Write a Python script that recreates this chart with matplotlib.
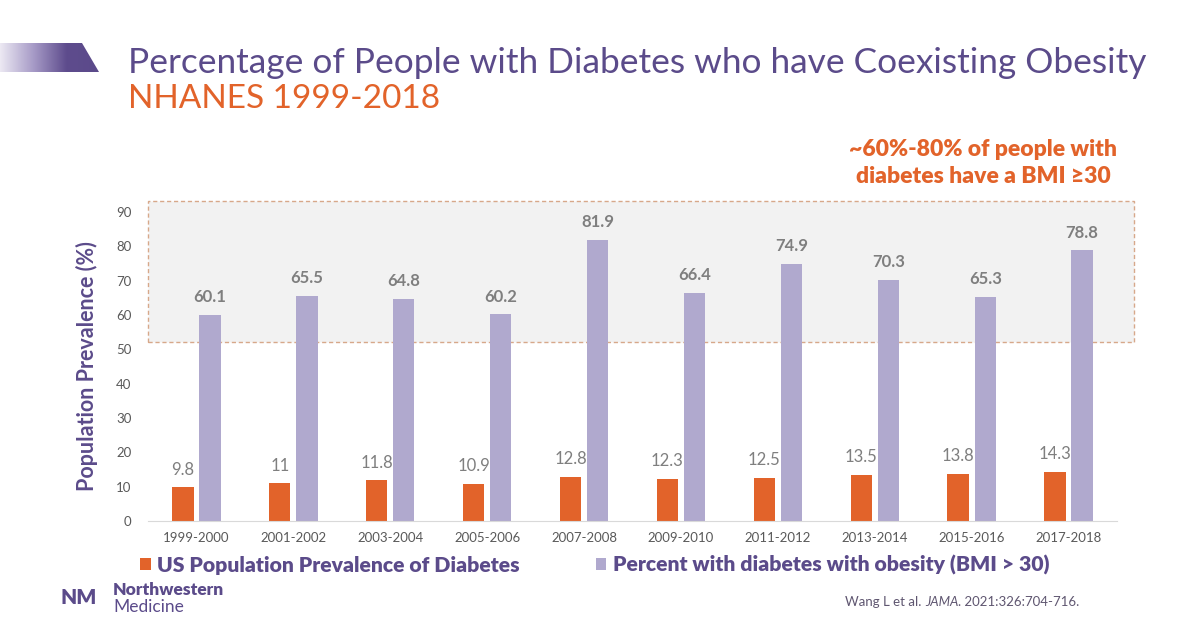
import matplotlib
matplotlib.use("Agg")
import matplotlib.pyplot as plt
import numpy as np
from matplotlib.patches import Rectangle, Polygon
from matplotlib.colors import LinearSegmentedColormap

categories = ["1999-2000", "2001-2002", "2003-2004", "2005-2006", "2007-2008",
              "2009-2010", "2011-2012", "2013-2014", "2015-2016", "2017-2018"]
diabetes_prev = [9.8, 11, 11.8, 10.9, 12.8, 12.3, 12.5, 13.5, 13.8, 14.3]
obesity_pct = [60.1, 65.5, 64.8, 60.2, 81.9, 66.4, 74.9, 70.3, 65.3, 78.8]
yticks = [0, 10, 20, 30, 40, 50, 60, 70, 80, 90]
band_range = [52, 93.3]

ORANGE = "#E2632A"
LAV = "#B0A9CE"
PURPLE = "#5B4B8A"
GRAY = "#595959"
FONT = ["Lato", "DejaVu Sans"]

plt.rcParams["font.family"] = FONT

fig = plt.figure(figsize=(12, 6.28), dpi=100)
fig.patch.set_facecolor("white")
ax = fig.add_axes([148/1200, 1-521/628, (1117-148)/1200, (521-212)/628])

x = np.arange(len(categories))
w = 0.22
off = 0.14

# highlighted band (extends slightly beyond the axis on the right)
band = Rectangle((-0.5, band_range[0]), 10.18, band_range[1]-band_range[0],
                 facecolor="#F2F2F2", edgecolor="#D7A88A", linestyle=(0, (3, 2)),
                 linewidth=1.0, clip_on=False, zorder=0)
ax.add_patch(band)

b1 = ax.bar(x - off, diabetes_prev, w, color=ORANGE, zorder=2,
            label="US Population Prevalence of Diabetes")
b2 = ax.bar(x + off, obesity_pct, w, color=LAV, zorder=2,
            label="Percent with diabetes with obesity (BMI > 30)")

for xi, v in zip(x, diabetes_prev):
    ax.annotate(f"{v:g}", (xi - off, v), xytext=(0, 7), textcoords="offset points",
                ha="center", va="bottom", fontsize=12, color="#7F7F7F")
for xi, v in zip(x, obesity_pct):
    ax.annotate(f"{v:g}", (xi + off, v), xytext=(0, 7), textcoords="offset points",
                ha="center", va="bottom", fontsize=12, color="#7F7F7F", fontweight="bold")

ax.set_xlim(-0.5, 9.5)
ax.set_ylim(0, 90)
ax.set_yticks(yticks)
ax.set_xticks(x)
ax.set_xticklabels(categories)
ax.tick_params(axis="both", length=0, labelsize=9.5, labelcolor=GRAY)
ax.tick_params(axis="y", pad=12)
ax.tick_params(axis="x", pad=8)
for s in ["top", "right", "left"]:
    ax.spines[s].set_visible(False)
ax.spines["bottom"].set_color("#D9D9D9")
ax.set_facecolor("none")

ax.set_ylabel("Population Prevalence (%)", fontsize=15.5, fontweight="bold", color=PURPLE, labelpad=13)

leg = ax.legend(handles=[b1, b2], loc="upper left", bbox_to_anchor=(-0.008, -0.11),
                ncol=2, frameon=False, fontsize=15.2, handlelength=0.5, handleheight=0.5,
                handletextpad=0.3, columnspacing=3.6, borderpad=0, borderaxespad=0)
for t in leg.get_texts():
    t.set_color(PURPLE)
    t.set_fontweight("heavy")

# title & subtitle
fig.text(128/1200, 1-63/628, "Percentage of People with Diabetes who have Coexisting Obesity",
         fontsize=25.4, color=PURPLE, va="center", ha="left")
fig.text(128/1200, 1-99/628, "NHANES 1999-2018", fontsize=24, color=ORANGE, va="center", ha="left")

# gradient decoration
grad = np.linspace(0, 1, 256).reshape(1, -1)
cmap = LinearSegmentedColormap.from_list("g", ["#ECE9F3", "#A79BC7", "#5E4C8D", "#5B4A8A"])
deco_ax = fig.add_axes([0, 1-72/628, 100/1200, 29/628])
deco_ax.set_axis_off()
im = deco_ax.imshow(grad, aspect="auto", cmap=cmap, extent=[0, 100, 0, 29])
poly = Polygon([[0, 0], [0, 29], [82, 29], [99, 0]], closed=True, transform=deco_ax.transData)
im.set_clip_path(poly)
deco_ax.set_xlim(0, 100)
deco_ax.set_ylim(0, 29)

# annotation
fig.text(983/1200, 1-163/628, "~60%-80% of people with\ndiabetes have a BMI \u226530",
         fontsize=16.5, fontweight="heavy", color=ORANGE, ha="center", va="center", linespacing=1.4)

# logo
fig.text(61/1200, 1-598/628, "NM", fontsize=15, fontweight="heavy", color=PURPLE,
         ha="left", va="center")
fig.text(113/1200, 1-598/628, "Northwestern", fontsize=12.5, fontweight="heavy", color=PURPLE,
         ha="left", va="bottom")
fig.text(113/1200, 1-599/628, "Medicine", fontsize=12.5, color=PURPLE, ha="left", va="top")

# citation
fig.canvas.draw()
r = fig.canvas.get_renderer()
CIT = "#5F5670"
cy = 1-602/628
t1 = fig.text(845/1200, cy, "Wang L et al. ", fontsize=9.5, color=CIT, ha="left", va="center")
bb = t1.get_window_extent(r)
t2 = fig.text(bb.x1/1200, cy, "JAMA", fontsize=9.5, color=CIT, style="italic", ha="left", va="center")
bb = t2.get_window_extent(r)
fig.text(bb.x1/1200, cy, ". 2021:326:704-716.", fontsize=9.5, color=CIT, ha="left", va="center")

fig.savefig("out.png", dpi=100, facecolor="white")
